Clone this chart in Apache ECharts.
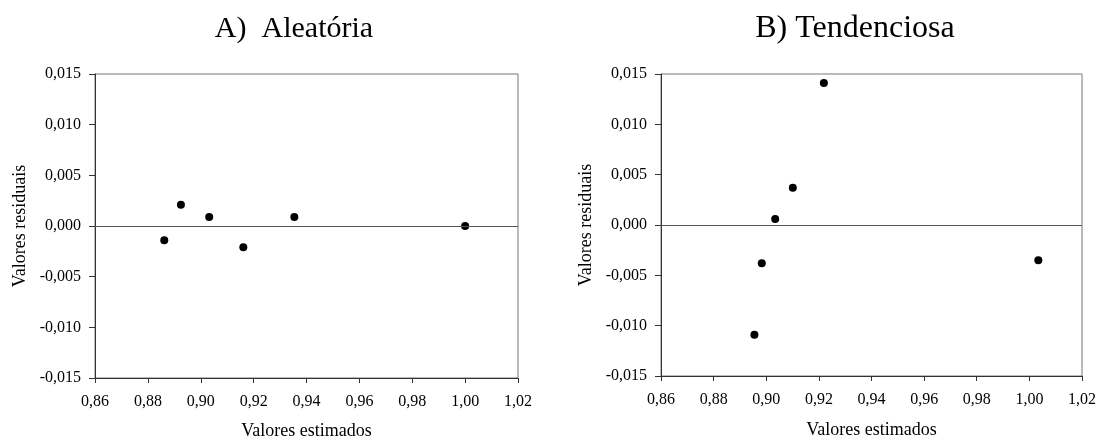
<!DOCTYPE html>
<html>
<head>
<meta charset="utf-8">
<script src="https://cdn.jsdelivr.net/npm/echarts@6/dist/echarts.min.js"></script>
<style>
  html, body { margin: 0; padding: 0; background: #fff; }
  #chart { width: 1099px; height: 437px; }
</style>
</head>
<body>
<div id="chart"></div>
<script>
// Panel titles
const panelTitles = ['A)  Aleatória', 'B) Tendenciosa'];
const xAxisTitle = 'Valores estimados';
const yAxisTitle = 'Valores residuais';

// A) random residuals: estimated value vs residual
const estimatedA = [0.8862, 0.8925, 0.9032, 0.9161, 0.9354, 1.0000];
const residualA  = [-0.0014, 0.0021, 0.0009, -0.0021, 0.0009, 0.0000];

// B) biased residuals
const estimatedB = [0.8955, 0.8983, 0.9034, 0.9101, 0.9219, 1.0034];
const residualB  = [-0.0109, -0.0038, 0.0006, 0.0037, 0.0141, -0.0035];

// Axis ranges
const xMin = 0.86, xMax = 1.02, xStep = 0.02;
const yMin = -0.015, yMax = 0.015, yStep = 0.005;

const FONT = '"Liberation Serif", "Times New Roman", serif';
const comma = (v, d) => v.toFixed(d).replace('.', ',');

function pairs(xs, ys) { return xs.map((x, i) => [x, ys[i]]); }

function xAxis(gridIndex, nameGap) {
  return {
    type: 'value', gridIndex, min: xMin, max: xMax, interval: xStep,
    name: xAxisTitle, nameLocation: 'middle', nameGap,
    nameTextStyle: { fontFamily: FONT, fontSize: 18, color: '#000' },
    axisLine: { show: true, onZero: false, lineStyle: { color: '#333', width: 1 } },
    axisTick: { show: true, length: 5, lineStyle: { color: '#333' } },
    axisLabel: { margin: 16, fontFamily: FONT, fontSize: 16, color: '#000',
                 formatter: v => comma(v, 2) },
    splitLine: { show: false }
  };
}

function yAxis(gridIndex) {
  return {
    type: 'value', gridIndex, min: yMin, max: yMax, interval: yStep,
    name: yAxisTitle, nameLocation: 'middle', nameGap: 66, nameRotate: 90,
    nameTextStyle: { fontFamily: FONT, fontSize: 18, color: '#000' },
    axisLine: { show: true, onZero: false, lineStyle: { color: '#333', width: 1 } },
    axisTick: { show: true, length: 6, lineStyle: { color: '#333' } },
    axisLabel: { margin: 14, fontFamily: FONT, fontSize: 16, color: '#000',
                 formatter: v => comma(v, 3) },
    splitLine: { show: false }
  };
}

function scatter(idx, data) {
  return {
    type: 'scatter', xAxisIndex: idx, yAxisIndex: idx, data,
    symbol: 'circle', symbolSize: 8,
    itemStyle: { color: '#000', opacity: 1 },
    markLine: {
      silent: true, symbol: 'none', label: { show: false },
      lineStyle: { color: '#555', width: 1, type: 'solid' },
      data: [{ yAxis: 0 }]
    }
  };
}

const chart = echarts.init(document.getElementById('chart'), null, { renderer: 'canvas' });
chart.setOption({
  animation: false,
  backgroundColor: '#fff',
  title: [
    { text: panelTitles[0], left: 289, top: 9, textAlign: 'center',
      textStyle: { fontFamily: FONT, fontSize: 30, fontWeight: 'normal', color: '#000' } },
    { text: panelTitles[1], left: 850, top: 8, textAlign: 'center',
      textStyle: { fontFamily: FONT, fontSize: 32, fontWeight: 'normal', color: '#000' } }
  ],
  grid: [
    { left: 95, top: 74, width: 423, height: 304, outerBoundsMode: 'none', containLabel: false,
      show: true, borderColor: '#777', borderWidth: 1, backgroundColor: 'transparent' },
    { left: 661, top: 74, width: 421, height: 302, outerBoundsMode: 'none', containLabel: false,
      show: true, borderColor: '#777', borderWidth: 1, backgroundColor: 'transparent' }
  ],
  xAxis: [xAxis(0, 44), xAxis(1, 45)],
  yAxis: [yAxis(0), yAxis(1)],
  series: [
    scatter(0, pairs(estimatedA, residualA)),
    scatter(1, pairs(estimatedB, residualB))
  ]
});
</script>
</body>
</html>
